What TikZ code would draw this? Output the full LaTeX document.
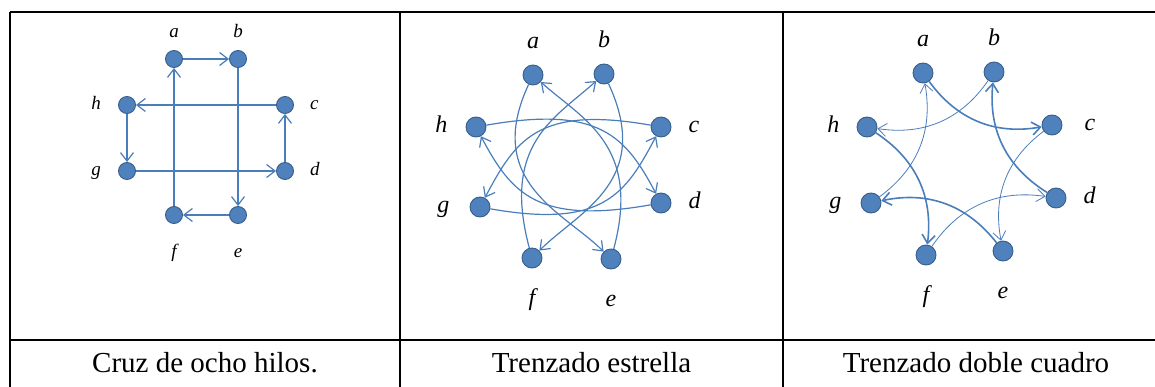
\documentclass[tikz,border=0pt]{standalone}
\usepackage{fontspec}
\setmainfont{Liberation Serif}
\usepackage{tikz}
\usetikzlibrary{positioning, arrows.meta}
\definecolor{DotBlue}{HTML}{4F81BD}
\definecolor{DotEdge}{HTML}{385D8A}
\definecolor{WireBlue}{HTML}{4A7EBB}

\begin{document}
\begin{tikzpicture}[x=1pt, y=1pt,
            dot/.style={circle, fill=DotBlue, draw=DotEdge, line width=0.9pt, minimum size=20pt, inner sep=0pt},
            smalldot/.style={dot, minimum size=17pt},
            lbl/.style={inner sep=0pt, text height=16.5pt, text depth=5.2pt, font=\fontsize{24}{28}\selectfont\itshape},
            smalllbl/.style={inner sep=0pt, text height=13pt, text depth=4.2pt, font=\fontsize{19}{22}\selectfont\itshape},
            wire/.style={draw=WireBlue, line width=1.2pt, -{Straight Barb[length=8.5pt, width=13pt]}},
            longarc/.style={wire, out distance=108pt, in distance=55pt},
            widearc/.style={wire, out distance=115pt, in distance=65pt},
            thinwire/.style={wire, line width=0.8pt},
            thickwire/.style={wire, line width=1.6pt},
            grid/.style={draw=black, line width=1.5pt},
            caption/.style={anchor=base, font=\fontsize{29}{34}\selectfont}
        ]
            \clip (0,0) rectangle (1155,-387);

            \draw[grid] (10,-12) -- (1170,-12);
            \draw[grid] (10,-340) -- (1170,-340);
            \draw[grid] (10,-12) -- (10,-400);
            \draw[grid] (400,-12) -- (400,-400);
            \draw[grid] (783,-12) -- (783,-400);

            \node[smalldot] (cruzA) at (174,-59) {};
            \node[smalldot] (cruzB) at (238,-59) {};
            \node[smalldot] (cruzC) at (285,-105) {};
            \node[smalldot] (cruzD) at (285,-171) {};
            \node[smalldot] (cruzE) at (238,-215) {};
            \node[smalldot] (cruzF) at (174,-215) {};
            \node[smalldot] (cruzG) at (127,-171) {};
            \node[smalldot] (cruzH) at (127,-105) {};
            \node[smalllbl, above=8pt of cruzA] (cruzLa) {a};
            \node[smalllbl, above=8pt of cruzB] (cruzLb) {b};
            \node[smalllbl, right=16pt of cruzC] (cruzLc) {c};
            \node[smalllbl, right=16pt of cruzD] (cruzLd) {d};
            \node[smalllbl, below=20pt of cruzE] (cruzLe) {e};
            \node[smalllbl, below=20pt of cruzF] (cruzLf) {f};
            \node[smalllbl, left=17pt of cruzG] (cruzLg) {g};
            \node[smalllbl, left=17pt of cruzH] (cruzLh) {h};

            \draw[wire] (cruzA) -- (cruzB);
            \draw[wire] (cruzB) -- (cruzE);
            \draw[wire] (cruzE) -- (cruzF);
            \draw[wire] (cruzF) -- (cruzA);
            \draw[wire] (cruzC) -- (cruzH);
            \draw[wire] (cruzH) -- (cruzG);
            \draw[wire] (cruzG) -- (cruzD);
            \draw[wire] (cruzD) -- (cruzC);

            \node[dot] (estrA) at (533,-75) {};
            \node[dot] (estrB) at (604,-74) {};
            \node[dot] (estrC) at (661,-127) {};
            \node[dot] (estrD) at (661,-203) {};
            \node[dot] (estrE) at (611,-259) {};
            \node[dot] (estrF) at (532,-258) {};
            \node[dot] (estrG) at (480,-207) {};
            \node[dot] (estrH) at (476,-127) {};
            \node[lbl, above=11pt of estrA] (estrLa) {a};
            \node[lbl, above=11pt of estrB] (estrLb) {b};
            \node[lbl, right=17pt of estrC] (estrLc) {c};
            \node[lbl, right=17pt of estrD] (estrLd) {d};
            \node[lbl, below=20pt of estrE] (estrLe) {e};
            \node[lbl, below=20pt of estrF] (estrLf) {f};
            \node[lbl, left=20pt of estrG] (estrLg) {g};
            \node[lbl, left=18pt of estrH] (estrLh) {h};

            \draw[longarc] (estrA) to[out=-115, in=135] (estrE);
            \draw[longarc] (estrE) to[out=75, in=-42] (estrA);
            \draw[longarc] (estrB) to[out=-65, in=45] (estrF);
            \draw[longarc] (estrF) to[out=105, in=-138] (estrB);
            \draw[widearc] (estrH) to[out=10, in=118] (estrD);
            \draw[widearc] (estrD) to[out=190, in=-62] (estrH);
            \draw[widearc] (estrC) to[out=170, in=62] (estrG);
            \draw[widearc] (estrG) to[out=-10, in=-118] (estrC);

            \node[dot] (doblA) at (923,-73) {};
            \node[dot] (doblB) at (994,-72) {};
            \node[dot] (doblC) at (1052,-125) {};
            \node[dot] (doblD) at (1056,-198) {};
            \node[dot] (doblE) at (1003,-251) {};
            \node[dot] (doblF) at (926,-255) {};
            \node[dot] (doblG) at (871,-203) {};
            \node[dot] (doblH) at (867,-127) {};
            \node[lbl, above=11pt of doblA] (doblLa) {a};
            \node[lbl, above=11pt of doblB] (doblLb) {b};
            \node[lbl, right=22pt of doblC] (doblLc) {c};
            \node[lbl, right=17pt of doblD] (doblLd) {d};
            \node[lbl, below=20pt of doblE] (doblLe) {e};
            \node[lbl, below=20pt of doblF] (doblLf) {f};
            \node[lbl, left=19pt of doblG] (doblLg) {g};
            \node[lbl, left=17pt of doblH] (doblLh) {h};

            \draw[thickwire] (doblA) to[bend right=32] (doblC);
            \draw[thinwire] (doblC) to[bend right=32] (doblE);
            \draw[thickwire] (doblE) to[bend right=32] (doblG);
            \draw[thinwire] (doblG) to[bend right=32] (doblA);
            \draw[thickwire] (doblD) to[bend left=32] (doblB);
            \draw[thinwire] (doblB) to[bend left=32] (doblH);
            \draw[thickwire] (doblH) to[bend left=32] (doblF);
            \draw[thinwire] (doblF) to[bend left=32] (doblD);

            \node[caption] (capCruz) at (205,-372) {Cruz de ocho hilos.};
            \node[caption] (capEstr) at (591.5,-372) {Trenzado estrella};
            \node[caption] (capDobl) at (976,-372) {Trenzado doble cuadro};

        \end{tikzpicture}
\end{document}
